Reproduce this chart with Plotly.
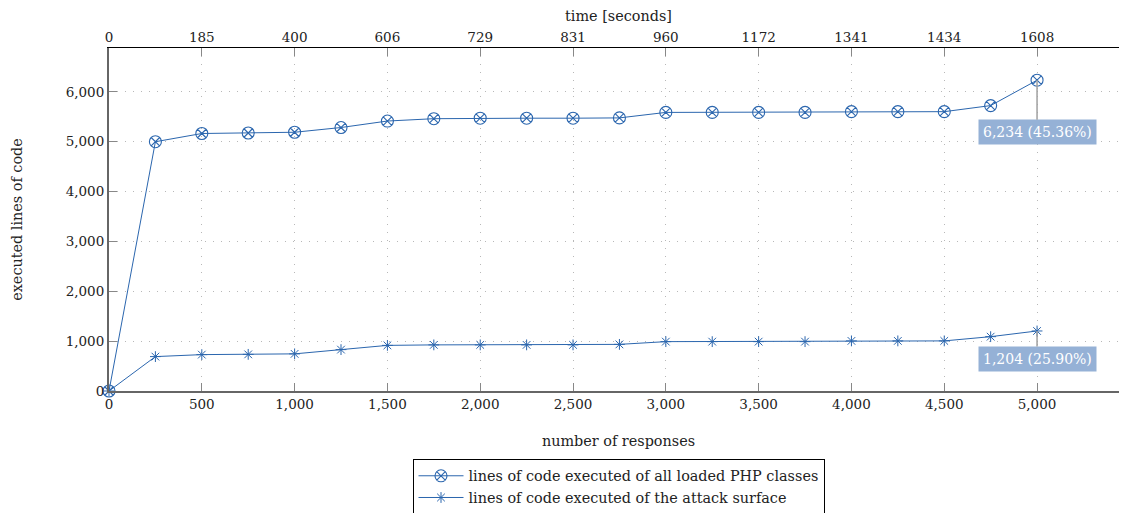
import plotly.graph_objects as go

responses = [0, 250, 500, 750, 1000, 1250, 1500, 1750, 2000, 2250, 2500,
             2750, 3000, 3250, 3500, 3750, 4000, 4250, 4500, 4750, 5000]
all_classes = [0, 5000, 5165, 5175, 5190, 5285, 5415, 5462, 5472, 5472, 5472,
               5478, 5588, 5588, 5588, 5588, 5603, 5603, 5603, 5725, 6234]
attack_surface = [0, 690, 730, 735, 745, 830, 915, 925, 925, 925, 925,
                  935, 990, 990, 990, 990, 1005, 1005, 1005, 1090, 1204]
top_tick_pos = [0, 500, 1000, 1500, 2000, 2500, 3000, 3500, 4000, 4500, 5000]
top_tick_text = ["0", "185", "400", "606", "729", "831", "960", "1172", "1341", "1434", "1608"]
labels = ["6,234 (45.36%)", "1,204 (25.90%)"]

BLUE = "#2b66ae"
FONT = "DejaVu Serif"
GRID = dict(showgrid=True, gridcolor="#b8b8b8", griddash="1px,7px", gridwidth=1)
TITLE_FONT = dict(size=14.4, family=FONT, color="#222")

fig = go.Figure()
fig.add_trace(go.Scatter(
    x=responses, y=all_classes, mode="lines+markers",
    name="lines of code executed of all loaded PHP classes",
    line=dict(color=BLUE, width=1),
    marker=dict(symbol="circle-x-open", size=12, color=BLUE, line=dict(width=1.1)),
    cliponaxis=False))
fig.add_trace(go.Scatter(
    x=responses, y=attack_surface, mode="lines+markers",
    name="lines of code executed of the attack surface",
    line=dict(color=BLUE, width=1),
    marker=dict(symbol="asterisk-open", size=9, color=BLUE, line=dict(width=1, color=BLUE)),
    cliponaxis=False))
# invisible trace to anchor top axis
fig.add_trace(go.Scatter(x=responses, y=all_classes, xaxis="x2", mode="markers",
                         marker=dict(opacity=0), showlegend=False, hoverinfo="skip"))

for xs, ys, txt, ay in [(responses[-1], all_classes[-1], labels[0], 52),
                        (responses[-1], attack_surface[-1], labels[1], 28)]:
    fig.add_annotation(x=xs, y=ys, text=txt, showarrow=True, arrowhead=0,
                       arrowcolor="#a0a0a0", arrowwidth=1.5, ax=0, ay=ay,
                       bgcolor="#95b1d6", borderpad=4,
                       font=dict(color="white", size=14, family=FONT))

XR = [0, 5490]
fig.update_layout(
    width=1127, height=513,
    margin=dict(l=101, r=7, t=40, b=130, autoexpand=False),
    paper_bgcolor="white", plot_bgcolor="white",
    font=dict(family=FONT, size=13.5, color="#222"),
    showlegend=True,
    legend=dict(x=0.5, xanchor="center", y=-0.198, yanchor="top",
                bordercolor="black", borderwidth=1, bgcolor="white",
                font=dict(size=14.4, family=FONT), tracegroupgap=0, itemwidth=45),
    xaxis=dict(range=XR, tickvals=top_tick_pos, tickformat=",", automargin=False,
               ticks="inside", ticklen=8, tickcolor="#888",
               showline=True, linecolor="#666", linewidth=2,
               zeroline=False, **GRID,
               title=dict(text="number of responses", standoff=25, font=TITLE_FONT)),
    xaxis2=dict(range=XR, overlaying="x", side="top", anchor="y", automargin=False,
                tickvals=top_tick_pos, ticktext=top_tick_text,
                ticks="inside", ticklen=8, tickcolor="#888",
                showline=True, linecolor="black", linewidth=1.2,
                showgrid=False, zeroline=False,
                title=dict(text="time [seconds]", standoff=4, font=TITLE_FONT)),
    yaxis=dict(range=[0, 6880], dtick=1000, tickformat=",", automargin=False,
               ticks="inside", ticklen=8, tickcolor="#888", mirror="ticks",
               showline=True, linecolor="#666", linewidth=2,
               zeroline=False, **GRID,
               title=dict(text="executed lines of code", standoff=40, font=TITLE_FONT)),
)

fig.write_html("out.html")
